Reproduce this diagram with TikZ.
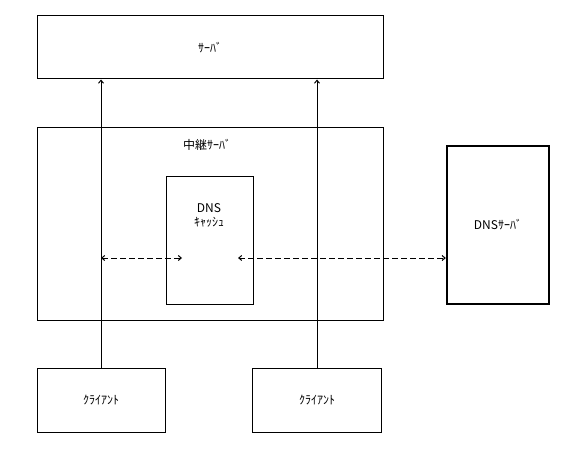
\documentclass[tikz,border=0pt]{standalone}
\usepackage{fontspec}
\setmainfont{Noto Sans CJK JP}
\usetikzlibrary{arrows.meta}
\tikzset{box/.style={rectangle, draw, line width=1pt, inner sep=0pt, font=\fontsize{12}{14}\selectfont},
  nil/.style={inner sep=1pt, font=\fontsize{12}{14}\selectfont},
  dsh/.style={dash pattern=on 6pt off 3pt, line width=1pt}}

\begin{document}
\begin{tikzpicture}[x=1pt, y=-1pt, line width=1pt, >={Straight Barb[length=3pt,width=5pt]}]
\useasboundingbox (0,0) rectangle (580,449);
\node[box, minimum width=346pt, minimum height=63pt] (srv) at (210,47.5) {ｻｰﾊﾞ};
\node[box, minimum width=346pt, minimum height=192pt] (relay) at (210,224) {};
\node[nil] (relaylbl) at (207,145) {中継ｻｰﾊﾞ};
\node[box, minimum width=87pt, minimum height=128pt] (cache) at (209.5,240) {};
\node[nil, align=center] (cachelbl) at (209,215) {DNS\\ｷｬｯｼｭ};
\node[box, line width=2.4pt, minimum width=102pt, minimum height=158pt] (dns) at (498,224.8) {DNSｻｰﾊﾞ};
\node[box, minimum width=128pt, minimum height=64pt] (cl1) at (101,400) {ｸﾗｲｱﾝﾄ};
\node[box, minimum width=129pt, minimum height=64pt] (cl2) at (317,400) {ｸﾗｲｱﾝﾄ};
\coordinate (h1) at (101,258);
\coordinate (h2) at (182,258);
\coordinate (h3) at (238,258);
\draw[->] (cl1.north) -- (cl1.north |- srv.south);
\draw[->] (cl2.north) -- (cl2.north |- srv.south);
\draw[<->, dsh] (h1) -- (h2);
\draw[<->, dsh] (h3) -- (h3 -| dns.west);
\end{tikzpicture}
\end{document}
